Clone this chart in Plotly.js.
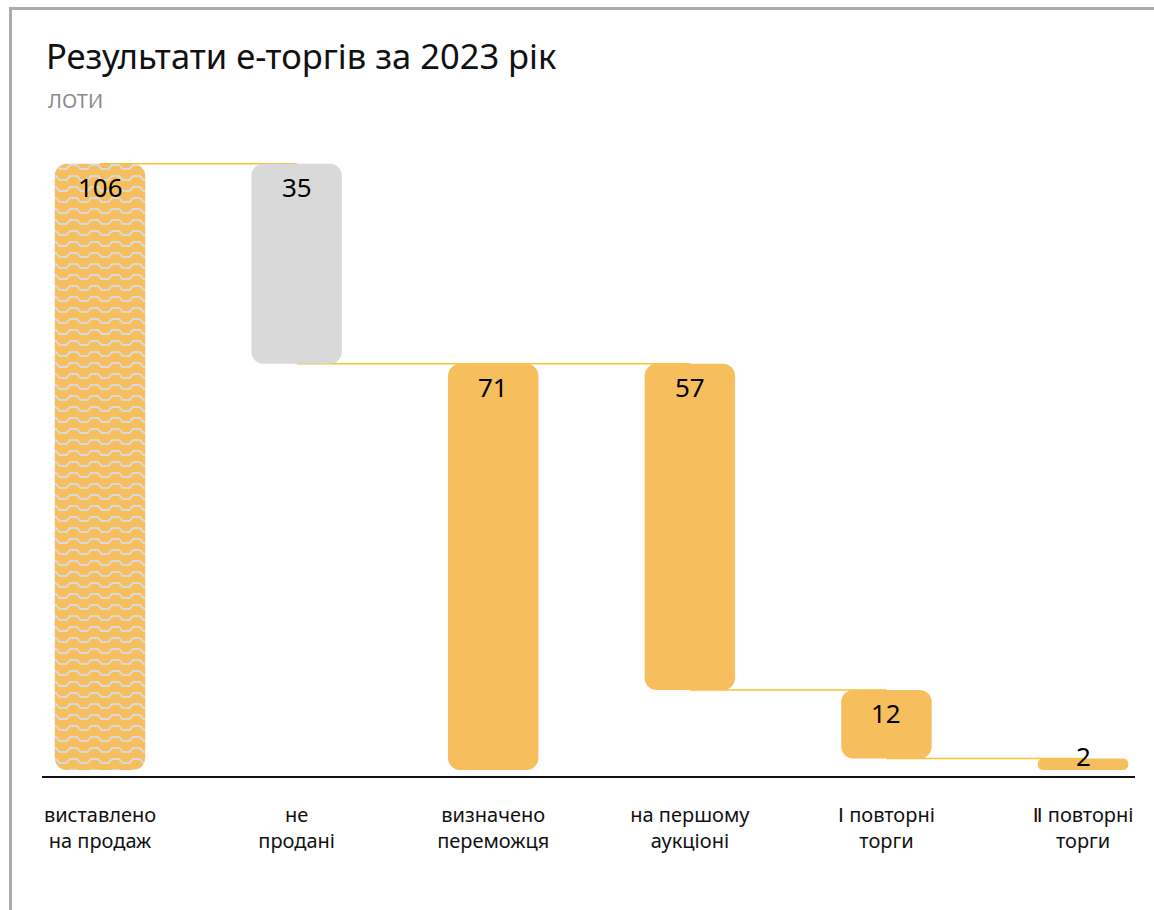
<!DOCTYPE html>
<html><head><meta charset="utf-8">
<script src="https://cdn.plot.ly/plotly-3.0.1.min.js"></script>
<style>
html,body{margin:0;padding:0;background:#fff;}
#wrap{position:relative;width:1154px;height:910px;overflow:hidden;}
#frame{position:absolute;left:9px;top:7px;right:-10px;bottom:-10px;border-left:3px solid #ababab;border-top:3px solid #ababab;pointer-events:none;}
</style>
</head><body>
<div id="wrap"><div id="chart" style="width:1154px;height:910px"></div><div id="frame"></div></div>
<script>
// ---- data ----
const categories = ['виставлено<br>на продаж','не<br>продані','визначено<br>переможця','на першому<br>аукціоні','Ⅰ повторні<br>торги','Ⅱ повторні<br>торги'];
const values = [106, 35, 71, 57, 12, 2];
const bases  = [0, 71, 0, 14, 2, 0];
const kinds  = ['total', 'loss', 'result', 'result', 'result', 'result'];
const titleText = 'Результати е-торгів за 2023 рік';
const subtitleText = 'ЛОТИ';

// ---- styles ----
const ORANGE = '#F6BE5C', GREY = '#D9D9D9', CONN = '#F7C12F';
const FONT = 'Noto Sans, DejaVu Sans, sans-serif';
const W = 1154, H = 910;
const margin = {l: 42, r: 19, t: 150, b: 134};
const yMin = -1.05, pxPerUnit = 5.72;
const plotH = H - margin.t - margin.b;
const plotW = W - margin.l - margin.r;
const yMax = yMin + plotH / pxPerUnit;

const xs = categories.map((c, i) => i);

const trace = {
  type: 'bar',
  x: xs,
  y: values,
  base: bases,
  width: xs.map(() => 0.46),
  marker: {
    color: kinds.map(k => k === 'loss' ? GREY : ORANGE),
    cornerradius: 12,
    line: {width: 0},
    pattern: {
      shape: kinds.map(k => k === 'total' ? '-' : ''),
      fgcolor: GREY,
      size: 10,
      solidity: 0.25,
      fillmode: 'replace'
    }
  },
  hoverinfo: 'skip',
  showlegend: false
};

const shapes = [];
for (let i = 0; i < values.length - 1; i++) {
  const lvl = bases[i + 1] + values[i + 1];
  shapes.push({type: 'line', xref: 'x', yref: 'y', x0: i, x1: i + 1, y0: lvl, y1: lvl,
    line: {color: CONN, width: 1.5}, layer: 'below'});
}

const annotations = values.map((v, i) => {
  const small = v * pxPerUnit < 40;
  return {
    x: i, y: bases[i] + v, xref: 'x', yref: 'y',
    text: String(v), showarrow: false,
    yanchor: small ? 'middle' : 'top', yshift: small ? 3 : -3,
    font: {family: FONT, size: 26, color: '#000'}
  };
});
annotations.push({
  xref: 'paper', yref: 'paper',
  x: (46 - margin.l) / plotW, y: (H - margin.b - 101) / plotH,
  xanchor: 'left', yanchor: 'middle', showarrow: false,
  text: subtitleText, font: {family: FONT, size: 20, color: '#8a8a8a'}
});

const layout = {
  width: W, height: H,
  margin: margin,
  paper_bgcolor: '#fff', plot_bgcolor: '#fff',
  title: {
    text: titleText,
    font: {family: FONT, size: 34.5, color: '#111'},
    xref: 'container', yref: 'container',
    x: 46 / W, xanchor: 'left', y: 1 - 57 / H, yanchor: 'middle'
  },
  xaxis: {
    range: [-0.295, 5.264],
    tickvals: xs, ticktext: categories,
    showgrid: false, zeroline: false,
    showline: true, linecolor: '#111', linewidth: 1.5,
    ticks: '', ticklabelstandoff: 20,
    tickfont: {family: FONT, size: 20, color: '#111'},
    fixedrange: true
  },
  yaxis: {
    range: [yMin, yMax],
    visible: false, showgrid: false, zeroline: false, fixedrange: true
  },
  shapes: shapes,
  annotations: annotations
};

function patchPattern() {
  const pats = document.querySelectorAll('#chart defs pattern');
  pats.forEach(p => {
    p.setAttribute('width', '21');
    p.setAttribute('height', '11');
    p.setAttribute('patternUnits', 'userSpaceOnUse');
    p.innerHTML = '<rect x="0" y="0" width="21" height="11" fill="' + ORANGE + '"/>' +
      '<path d="M0,8 H3.5 L7,4 H14 L17.5,8 H21" fill="none" stroke="' + GREY + '" stroke-width="2"/>';
  });
}

Plotly.newPlot('chart', [trace], layout, {displayModeBar: false, staticPlot: true}).then(patchPattern);
</script>
</body></html>
